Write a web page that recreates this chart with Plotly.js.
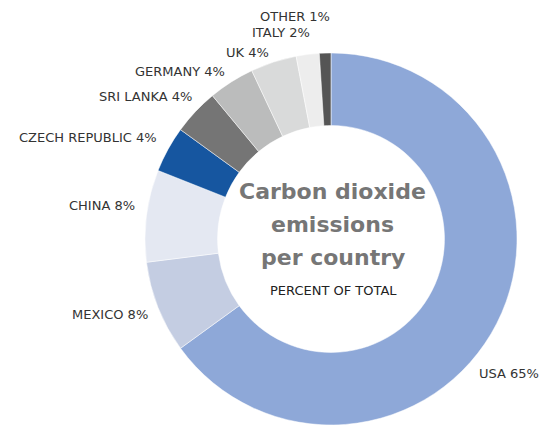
<!DOCTYPE html>
<html>
<head>
<meta charset="utf-8">
<script src="https://cdn.plot.ly/plotly-3.0.1.min.js"></script>
<style>html,body{margin:0;padding:0;background:#fff;}#chart{width:544px;height:427px;}</style>
</head>
<body>
<div id="chart"></div>
<script>
const countries = ["USA", "MEXICO", "CHINA", "CZECH REPUBLIC", "SRI LANKA", "GERMANY", "UK", "ITALY", "OTHER"];
const shares = [65, 8, 8, 4, 4, 4, 4, 2, 1];
const sliceColors = ["#8EA8D8", "#C4CDE2", "#E4E8F2", "#1656A0", "#757575", "#BBBCBC", "#D9DADA", "#EDEDED", "#555555"];
const titleLines = ["Carbon dioxide", "emissions", "per country"];
const centerSubtitle = "PERCENT OF TOTAL";

// label placement (pixel centres in the 544x427 canvas), layout only
const labelPosPx = [[509, 373], [110, 314], [102, 205], [88, 137], [145, 96], [180, 72], [247, 52], [281, 33], [295, 16]];
const titleLinePx = [191, 224, 257];

const W = 544, H = 427;
const px2x = p => p / W;
const px2y = p => 1 - p / H;

const trace = {
  type: "pie",
  labels: countries,
  values: shares,
  textinfo: "none",
  hole: 0.61,
  sort: false,
  direction: "clockwise",
  rotation: 0,
  marker: {colors: sliceColors, line: {color: "#ffffff", width: 0.5}},
  showlegend: false,
  hoverinfo: "none",
  domain: {x: [0.2665, 0.9504], y: [0.0047, 0.876]}
};

const annotations = countries.map((c, i) => ({
  text: c + " " + shares[i] + "%",
  x: px2x(labelPosPx[i][0]), y: px2y(labelPosPx[i][1]),
  xref: "paper", yref: "paper", xanchor: "center", yanchor: "middle",
  showarrow: false,
  font: {family: "DejaVu Sans, sans-serif", size: 13, color: "#333333"}
}));

titleLines.forEach((t, i) => annotations.push({
  text: "<b>" + t + "</b>",
  x: px2x(332.5), y: px2y(titleLinePx[i]),
  xref: "paper", yref: "paper", xanchor: "center", yanchor: "middle",
  showarrow: false,
  font: {family: "DejaVu Sans, sans-serif", size: 22, color: "#767676"}
}));

annotations.push({
  text: centerSubtitle,
  x: px2x(333), y: px2y(290),
  xref: "paper", yref: "paper", xanchor: "center", yanchor: "middle",
  showarrow: false,
  font: {family: "DejaVu Sans, sans-serif", size: 13, color: "#222222"}
});

const layout = {
  width: W, height: H,
  margin: {l: 0, r: 0, t: 0, b: 0},
  paper_bgcolor: "#ffffff",
  showlegend: false,
  annotations: annotations
};

Plotly.newPlot("chart", [trace], layout, {displayModeBar: false, staticPlot: true});
</script>
</body>
</html>
